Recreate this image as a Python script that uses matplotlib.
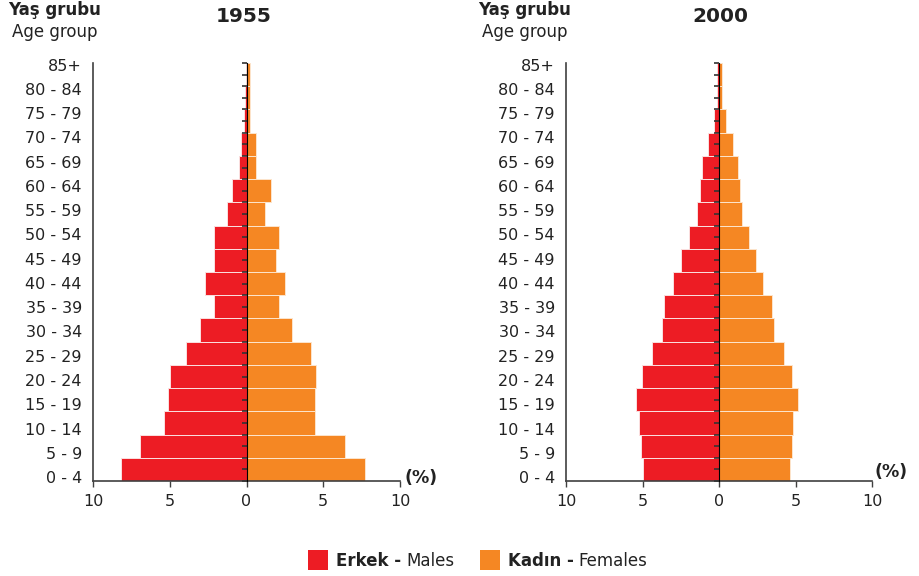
import numpy as np
import matplotlib
matplotlib.use("Agg")
import matplotlib.pyplot as plt
from matplotlib.patches import Rectangle

plt.rcParams['font.family'] = ['DejaVu Sans']

age_groups = ["0 - 4", "5 - 9", "10 - 14", "15 - 19", "20 - 24", "25 - 29", "30 - 34",
              "35 - 39", "40 - 44", "45 - 49", "50 - 54", "55 - 59", "60 - 64",
              "65 - 69", "70 - 74", "75 - 79", "80 - 84", "85+"]

males_1955 = [8.17, 6.91, 5.35, 5.13, 4.98, 3.94, 3.04, 2.11, 2.72, 2.13,
              2.09, 1.30, 0.96, 0.50, 0.39, 0.15, 0.13, 0.06]
females_1955 = [7.72, 6.41, 4.46, 4.43, 4.54, 4.17, 2.96, 2.11, 2.54, 1.89,
                2.13, 1.22, 1.57, 0.65, 0.65, 0.25, 0.25, 0.20]

males_2000 = [4.98, 5.11, 5.24, 5.42, 5.04, 4.36, 3.75, 3.57, 3.03, 2.48,
              1.99, 1.47, 1.25, 1.14, 0.72, 0.35, 0.13, 0.10]
females_2000 = [4.65, 4.78, 4.82, 5.15, 4.77, 4.25, 3.57, 3.49, 2.87, 2.39,
                1.97, 1.49, 1.38, 1.21, 0.92, 0.44, 0.18, 0.18]

x_ticks = [-10, -5, 0, 5, 10]
x_ticklabels = ["10", "5", "0", "5", "10"]

RED = "#ED1C24"
ORANGE = "#F58723"
AXC = "#404040"

W, H = 920, 576
fig = plt.figure(figsize=(W / 100, H / 100), dpi=100)


def fx(px):
    return px / W


def fy(py):
    return 1 - py / H


def pyramid(left_px, right_px, males, females, year, title_x, hdr_x, pct_xy):
    top_px, bot_px = 63, 481
    ax = fig.add_axes([fx(left_px), fy(bot_px), fx(right_px - left_px), (bot_px - top_px) / H])
    n = len(age_groups)
    y = np.arange(n)
    ax.barh(y, -np.array(males), height=1.0, color=RED, edgecolor="#fbe0e0", linewidth=0.7, zorder=2)
    ax.barh(y, np.array(females), height=1.0, color=ORANGE, edgecolor="#fde5cc", linewidth=0.7, zorder=2)
    ax.set_xlim(-10, 10)
    ax.set_ylim(-0.5, n - 0.5)
    for s in ["top", "right"]:
        ax.spines[s].set_visible(False)
    for s in ["left", "bottom"]:
        ax.spines[s].set_color(AXC)
        ax.spines[s].set_linewidth(1.2)
    ax.set_xticks(x_ticks)
    ax.set_xticklabels(x_ticklabels, fontsize=11.5, color="#222222")
    ax.tick_params(axis="x", length=4, width=1, color=AXC, pad=5)
    label_pos = np.linspace(-0.33, n - 0.57, n)
    ax.set_yticks(label_pos)
    ax.set_yticklabels(age_groups, fontsize=11.5, color="#222222")
    ax.tick_params(axis="y", length=0, pad=8)
    # centre axis with small ticks
    sec = ax.secondary_yaxis(0.5)
    sec.set_zorder(5)
    sec.set_yticks(np.arange(-0.5, n, 0.5))
    sec.set_yticklabels([])
    sec.tick_params(axis="y", which="major", direction="out", length=3.5, width=1.2,
                    color="#333333", left=True, right=False)
    sec.spines["left"].set_color("#555555")
    sec.spines["left"].set_linewidth(1.6)
    # titles
    fig.text(fx(title_x), fy(16), year, ha="center", va="center", fontsize=14.5,
             fontweight="bold", color="#222222")
    fig.text(fx(hdr_x), fy(10), "Yaş grubu", ha="center", va="center", fontsize=12,
             fontweight="bold", color="#222222")
    fig.text(fx(hdr_x), fy(32), "Age group", ha="center", va="center", fontsize=12,
             color="#222222")
    fig.text(fx(pct_xy[0]), fy(pct_xy[1]), "(%)", ha="left", va="center", fontsize=12.5,
             fontweight="bold", color="#222222")
    return ax


pyramid(93, 400, males_1955, females_1955, "1955", 244, 55, (405, 478))
pyramid(566, 872, males_2000, females_2000, "2000", 720, 525, (875, 472))

# legend
fig.patches.append(Rectangle((fx(308), fy(570)), fx(20), 20 / H, transform=fig.transFigure,
                             facecolor=RED, edgecolor="none"))
fig.patches.append(Rectangle((fx(480), fy(570)), fx(20), 20 / H, transform=fig.transFigure,
                             facecolor=ORANGE, edgecolor="none"))
renderer = fig.canvas.get_renderer()


def two_part(xpx, bold, regular):
    t = fig.text(fx(xpx), fy(561), bold, ha="left", va="center", fontsize=12,
                 fontweight="bold", color="#222222")
    bb = t.get_window_extent(renderer=renderer)
    fig.text(bb.x1 / W + fx(5), fy(561), regular, ha="left", va="center", fontsize=12,
             color="#222222")


two_part(336, "Erkek -", "Males")
two_part(508, "Kadın -", "Females")

fig.savefig("out.png", dpi=100)
